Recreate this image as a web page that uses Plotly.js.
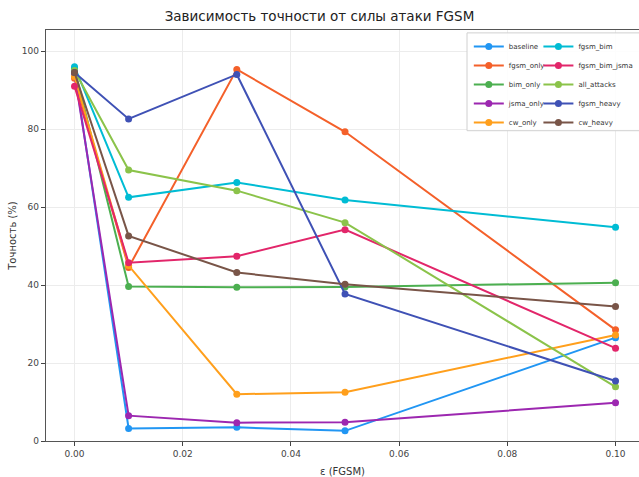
<!DOCTYPE html>
<html>
<head>
<meta charset="utf-8">
<script src="https://cdn.plot.ly/plotly-3.0.1.min.js"></script>
<style>html,body{margin:0;padding:0;background:#fff;}#chart{width:639px;height:477px;}</style>
</head>
<body>
<div id="chart"></div>
<script>
const eps = [0.0, 0.01, 0.03, 0.05, 0.10];
const seriesNames = ["baseline","fgsm_only","bim_only","jsma_only","cw_only","fgsm_bim","fgsm_bim_jsma","all_attacks","fgsm_heavy","cw_heavy"];
const baseline      = [95.0, 3.2, 3.5, 2.6, 26.5];
const fgsm_only     = [93.0, 44.5, 95.3, 79.3, 28.5];
const bim_only      = [95.5, 39.6, 39.4, 39.5, 40.6];
const jsma_only     = [94.0, 6.5, 4.7, 4.8, 9.8];
const cw_only       = [93.5, 45.0, 12.0, 12.5, 27.2];
const fgsm_bim      = [96.0, 62.5, 66.3, 61.8, 54.8];
const fgsm_bim_jsma = [91.0, 45.7, 47.4, 54.2, 23.8];
const all_attacks   = [95.0, 69.5, 64.2, 56.0, 13.9];
const fgsm_heavy    = [94.5, 82.6, 94.0, 37.7, 15.4];
const cw_heavy      = [94.5, 52.6, 43.2, 40.2, 34.5];
const xTickVals = [0.00, 0.02, 0.04, 0.06, 0.08, 0.10];
const yTickVals = [0, 20, 40, 60, 80, 100];

const values = [baseline, fgsm_only, bim_only, jsma_only, cw_only, fgsm_bim, fgsm_bim_jsma, all_attacks, fgsm_heavy, cw_heavy];
const colors = ["#2196F3","#F4602A","#4CAF50","#9C27B0","#FF9F1C","#00BCD4","#E2266A","#8BC34A","#3F51B5","#795548"];

const traces = seriesNames.map((name, i) => ({
  x: eps,
  y: values[i],
  name: name,
  type: "scatter",
  mode: "lines+markers",
  line: {color: colors[i], width: 2},
  marker: {color: colors[i], size: 7},
  legend: i < 5 ? "legend" : "legend2"
}));

const font = "DejaVu Sans, sans-serif";
const legendCommon = {
  bgcolor: "rgba(0,0,0,0)",
  borderwidth: 0,
  font: {family: font, size: 7, color: "#333"},
  yanchor: "top",
  itemwidth: 30,
  tracegroupgap: 0
};

const layout = {
  width: 639,
  height: 477,
  margin: {l: 46, r: 0, t: 30, b: 36},
  paper_bgcolor: "#fff",
  plot_bgcolor: "#fff",
  title: {text: "Зависимость точности от силы атаки FGSM", font: {family: font, size: 13.5, color: "#222"}, x: 0.5, xanchor: "center", y: 0.965, yanchor: "middle"},
  xaxis: {
    range: [-0.00527, 0.10434],
    tickvals: xTickVals,
    tickformat: ".2f",
    ticks: "outside", ticklen: 4, tickcolor: "#444",
    showgrid: true, gridcolor: "#ececec", gridwidth: 1,
    zeroline: false,
    showline: true, linecolor: "#555", linewidth: 1.3, mirror: true,
    tickfont: {family: font, size: 9, color: "#444"},
    title: {text: "ε (FGSM)", font: {family: font, size: 10, color: "#333"}, standoff: 10}
  },
  yaxis: {
    range: [0, 105.4],
    tickvals: yTickVals,
    ticks: "outside", ticklen: 4, tickcolor: "#444",
    showgrid: true, gridcolor: "#ececec", gridwidth: 1,
    zeroline: false,
    showline: true, linecolor: "#555", linewidth: 1.3, mirror: true,
    tickfont: {family: font, size: 9, color: "#444"},
    title: {text: "Точность (%)", font: {family: font, size: 10, color: "#333"}, standoff: 3}
  },
  showlegend: true,
  legend: Object.assign({}, legendCommon, {x: 0.713, y: 0.995, xanchor: "left"}),
  legend2: Object.assign({}, legendCommon, {x: 0.999, y: 0.995, xanchor: "right"}),
  shapes: [{
    type: "rect", xref: "paper", yref: "paper",
    x0: 0.710, x1: 1.02, y0: 0.755, y1: 0.993,
    fillcolor: "rgba(255,255,255,0.9)",
    line: {color: "#d0d0d0", width: 1},
    layer: "above"
  }]
};

Plotly.newPlot("chart", traces, layout, {displayModeBar: false, responsive: false});
</script>
</body>
</html>
